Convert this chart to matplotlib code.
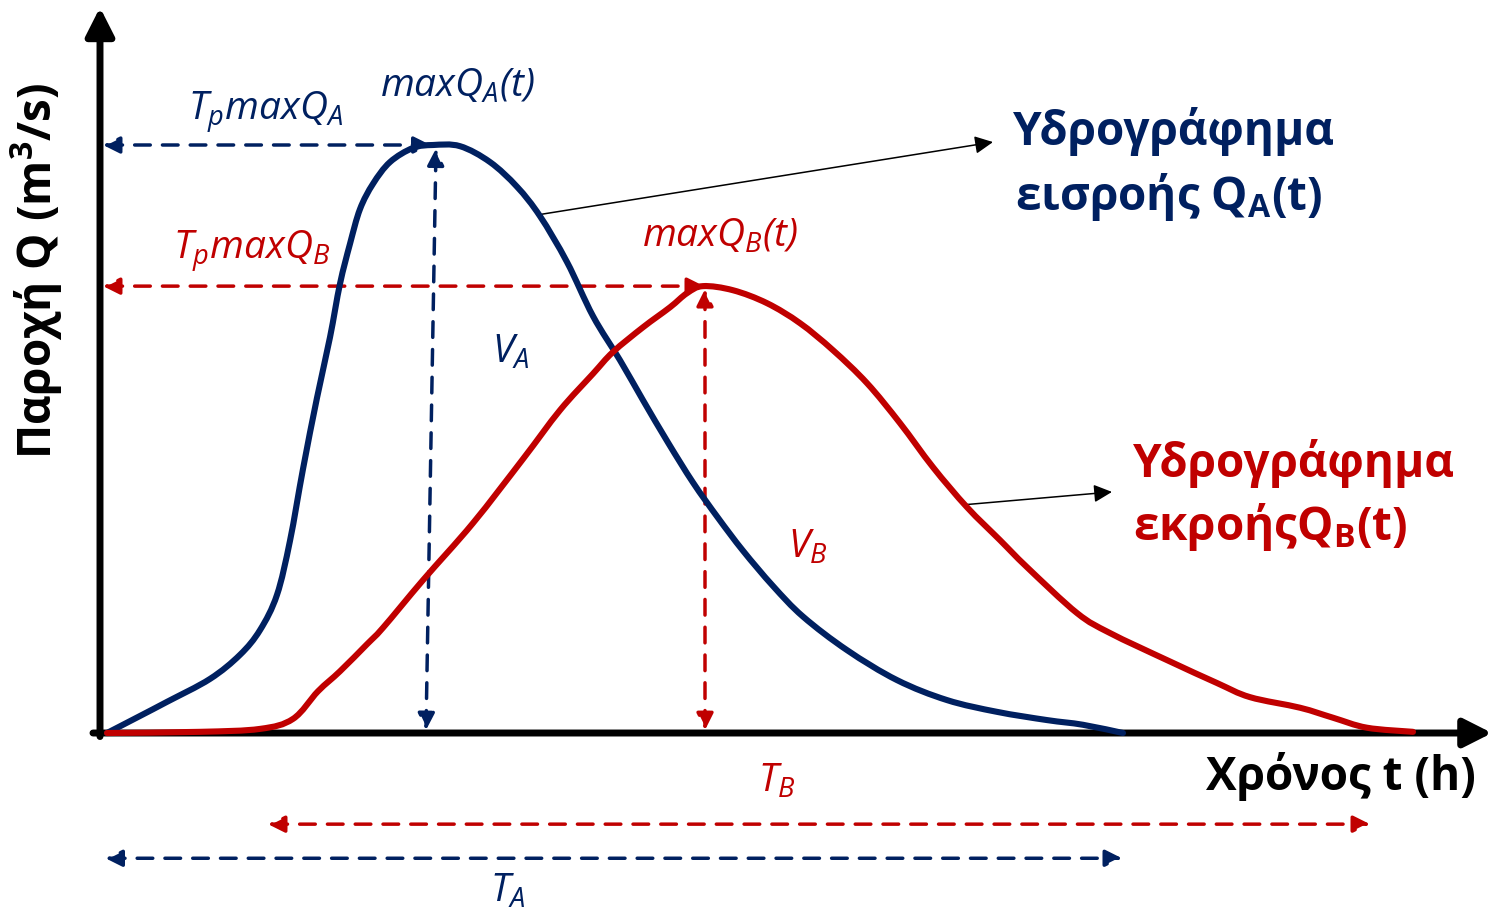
import matplotlib
matplotlib.use('Agg')
import matplotlib.pyplot as plt
from matplotlib.path import Path
from matplotlib.patches import PathPatch

plt.rcParams['font.family'] = ['Open Sans', 'DejaVu Sans']
plt.rcParams['mathtext.fontset'] = 'custom'
plt.rcParams['mathtext.rm'] = 'Open Sans'
plt.rcParams['mathtext.it'] = 'Open Sans:italic'
plt.rcParams['mathtext.bf'] = 'Open Sans:bold'

BLUE = '#002060'
RED = '#C00000'

# inflow hydrograph Q_A(t): time (h), discharge (m3/s)
t_a = [0.08, 0.74, 1.28, 2.14, 2.74, 3.14, 3.48, 3.74, 4.00, 4.28, 4.54, 4.74, 4.94,
       5.14, 5.40, 5.74, 6.20, 6.60, 7.14, 7.74, 8.28, 8.74, 9.28, 9.80, 10.34,
       10.80, 11.30, 11.80, 12.30, 12.80, 13.40, 14.00, 14.88, 15.88, 16.88, 17.88,
       18.88, 19.60, 20.40]
q_a = [0.0, 2.9, 5.3, 9.2, 13.3, 17.5, 23.5, 32.7, 44.9, 57.0, 67.3, 76.4, 83.2,
       89.1, 93.4, 97.1, 99.5, 100.0, 99.8, 97.1, 92.9, 87.9, 80.1, 70.9, 63.4,
       56.6, 49.4, 42.6, 36.6, 31.0, 25.0, 19.8, 14.1, 9.0, 5.6, 3.6,
       2.2, 1.4, 0.0]

# outflow hydrograph Q_B(t)
t_b = [0.08, 1.94, 3.14, 3.80, 4.30, 4.74, 5.28, 5.60, 6.40, 7.40, 8.40, 9.14, 9.80,
       10.20, 10.80, 11.34, 11.68, 12.00, 12.60, 13.28, 13.94, 14.60, 15.28, 15.94,
       16.60, 17.28, 17.94, 18.48, 19.48, 20.14, 21.28, 22.28, 22.94, 23.94, 24.60,
       25.28, 26.20]
q_b = [0.0, 0.2, 0.7, 2.4, 7.1, 10.5, 15.1, 17.9, 26.0, 35.7, 46.6, 54.9, 61.1,
       64.8, 69.0, 72.4, 74.8, 76.0, 75.3, 73.1, 69.7, 65.1, 59.5, 52.7,
       45.2, 38.4, 32.8, 28.2, 20.4, 17.0, 12.4, 8.5, 6.1, 4.3, 2.6,
       0.9, 0.2]

tp_a, qmax_a = 6.6, 100.0
tp_b, qmax_b = 12.04, 76.0
ta_start, ta_end = 0.05, 20.38
tb_start, tb_end = 3.3, 25.34

fig = plt.figure(figsize=(14.92, 9.14), dpi=100)
ax = fig.add_axes([0, 0, 1, 1])
ax.set_xlim(-2.06, 27.78)
ax.set_ylim(-30.78, 124.66)
ax.axis('off')


def smooth_curve(xs, ys, color):
    # Catmull-Rom through the read points, drawn as cubic Bezier segments
    pts = list(zip(xs, ys))
    verts = [pts[0]]
    codes = [Path.MOVETO]
    n = len(pts)
    for i in range(n - 1):
        p0 = pts[max(i - 1, 0)]
        p1 = pts[i]
        p2 = pts[i + 1]
        p3 = pts[min(i + 2, n - 1)]
        c1 = (p1[0] + (p2[0] - p0[0]) / 6, p1[1] + (p2[1] - p0[1]) / 6)
        c2 = (p2[0] - (p3[0] - p1[0]) / 6, p2[1] - (p3[1] - p1[1]) / 6)
        verts += [c1, c2, p2]
        codes += [Path.CURVE4] * 3
    ax.add_patch(PathPatch(Path(verts, codes), fill=False, edgecolor=color, lw=4.4,
                           capstyle='round', joinstyle='round', zorder=5))


def arrow(x0, y0, x1, y1, color, style, lw, ls='-', z=3):
    ax.annotate('', xy=(x1, y1), xytext=(x0, y0), zorder=z,
                arrowprops=dict(arrowstyle=style, color=color, lw=lw, linestyle=ls,
                                shrinkA=0, shrinkB=0, mutation_scale=1))


dash = (0, (4.5, 3.5))
head = '<|-|>,head_length=10,head_width=5'

# axes
arrow(-0.06, -0.6, -0.06, 123.4, 'black', '-|>,head_length=17,head_width=8.6', 5, z=2)
arrow(-0.2, 0, 27.78, 0, 'black', '-|>,head_length=17,head_width=8.6', 5, z=2)

# hydrographs
smooth_curve(t_a, q_a, BLUE)
smooth_curve(t_b, q_b, RED)

# peak markers
arrow(0.0, qmax_a, tp_a - 0.05, qmax_a, BLUE, head, 2.5, dash)
arrow(tp_a - 0.14, 0.5, tp_a + 0.06, qmax_a - 0.6, BLUE, head, 2.5, dash)
arrow(0.0, qmax_b, tp_b - 0.02, qmax_b, RED, head, 2.5, dash)
arrow(tp_b, 0.5, tp_b, qmax_b - 0.5, RED, head, 2.5, dash)

# durations
arrow(tb_start, -15.5, tb_end, -15.5, RED, head, 2.5, dash)
arrow(ta_start, -21.3, ta_end, -21.3, BLUE, head, 2.5, dash)

# pointers to labels
arrow(8.68, 88.1, 17.8, 100.5, 'black', '-|>,head_length=11,head_width=5.4', 1.1)
arrow(17.2, 38.8, 20.18, 41.0, 'black', '-|>,head_length=11,head_width=5.4', 1.1)

big = 33
ax.text(18.2, 100.0, 'Υδρογράφημα', color=BLUE, fontsize=big, fontweight='bold', va='baseline')
ax.text(18.24, 88.9, r'εισροής Q$_\mathbf{A}$(t)', color=BLUE, fontsize=big, fontweight='bold', va='baseline')
ax.text(20.6, 43.5, 'Υδρογράφημα', color=RED, fontsize=big, fontweight='bold', va='baseline')
ax.text(20.6, 32.8, r'εκροήςQ$_\mathbf{B}$(t)', color=RED, fontsize=big, fontweight='bold', va='baseline')

ax.text(-1.32, 78.6, r'Παροχή Q (m$^\mathbf{3}$/s)', color='black', fontsize=33,
        fontweight='bold', rotation=90, ha='center', va='center')
ax.text(24.76, -9.7, 'Χρόνος t (h)', color='black', fontsize=33, fontweight='bold',
        ha='center', va='baseline')

sm = 28
ax.text(1.7, 104.3, r'T$_p$maxQ$_A$', color=BLUE, fontsize=sm, style='italic', va='baseline')
ax.text(5.54, 108.2, r'maxQ$_A$(t)', color=BLUE, fontsize=sm, style='italic', va='baseline')
ax.text(1.4, 80.7, r'T$_p$maxQ$_B$', color=RED, fontsize=sm, style='italic', va='baseline')
ax.text(10.78, 82.7, r'maxQ$_B$(t)', color=RED, fontsize=sm, style='italic', va='baseline')
ax.text(7.78, 62.9, r'V$_A$', color=BLUE, fontsize=sm, style='italic', va='baseline')
ax.text(13.7, 29.8, r'V$_B$', color=RED, fontsize=sm, style='italic', va='baseline')
ax.text(13.1, -10.0, r'T$_B$', color=RED, fontsize=sm, style='italic', va='baseline')
ax.text(7.74, -28.7, r'T$_A$', color=BLUE, fontsize=sm, style='italic', va='baseline')

fig.savefig('out.png', dpi=100)
